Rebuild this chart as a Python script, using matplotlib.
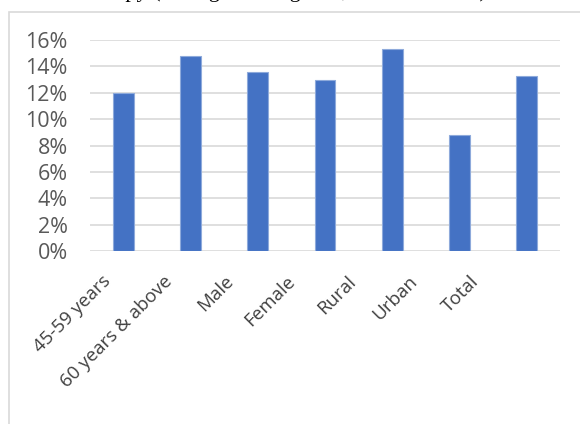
import matplotlib.pyplot as plt
from matplotlib.patches import Rectangle
from matplotlib.ticker import PercentFormatter
from matplotlib.transforms import ScaledTranslation

# Share of each group (fraction)
categories = ["45-59 years", "60 years & above", "Male", "Female", "Rural", "Urban", "Total"]
values = [0.120, 0.148, 0.136, 0.130, 0.153, 0.088, 0.133]
yticks = [0, 0.02, 0.04, 0.06, 0.08, 0.10, 0.12, 0.14, 0.16]

W, H = 580, 424
fig = plt.figure(figsize=(W / 100, H / 100), dpi=100)
fig.patch.set_facecolor("white")

# line of document text above the chart, mostly cut off by the top edge
fig.text(65 / W, 1 + 3.5 / H, "ecoscopy (average scoring of 4, 4 or 4.5 of 5.0) in",
         family="Liberation Serif", fontsize=16, color="black", va="baseline", ha="left")

# chart frame (only left and top edges are visible)
fig.patches.append(Rectangle((8.5 / W, -0.1), 1.2, 1 - 11.5 / H + 0.1,
                             transform=fig.transFigure, fill=False,
                             edgecolor="#d9d9d9", linewidth=1.2))

ax = fig.add_axes([90 / W, 1 - 251 / H, 470 / W, 211 / H])
x = range(len(categories))
ax.bar(x, values, width=0.31, color="#4472c4", edgecolor="#8eaadb", linewidth=0.8, zorder=3)

ax.set_ylim(0, 0.16)
ax.set_xlim(-0.5, len(categories) - 0.5)
ax.set_yticks(yticks)
ax.yaxis.set_major_formatter(PercentFormatter(1.0, decimals=0))
ax.grid(axis="y", color="#d9d9d9", linewidth=1.2, zorder=0)
for s in ax.spines.values():
    s.set_visible(False)
ax.tick_params(axis="both", length=0, colors="#595959", labelsize=15.5)
ax.tick_params(axis="y", pad=16)
for lab in ax.get_yticklabels():
    lab.set_family("Open Sans")

ax.set_xticks(list(x))
ax.set_xticklabels(categories, rotation=45, ha="right", rotation_mode="anchor",
                   family="Open Sans", fontsize=13.5, color="#404040")
ax.tick_params(axis="x", pad=8)
# excel packs the rotated labels a bit tighter than the bars
for i, lab in enumerate(ax.get_xticklabels()):
    dx = -(22 + 5.8 * i) / 100
    lab.set_transform(lab.get_transform() + ScaledTranslation(dx, -0.10, fig.dpi_scale_trans))

fig.savefig("out.png", dpi=100)
